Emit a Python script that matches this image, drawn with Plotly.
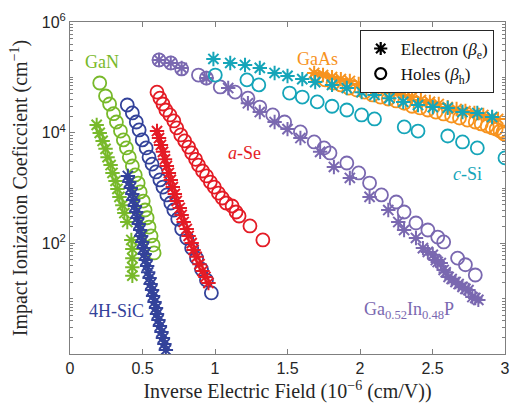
import plotly.graph_objects as go

# ---------------- data (x: inverse field, 1e-6 cm/V ; y: cm^-1) ----------------
gan_h_x = [0.205, 0.245, 0.273, 0.300, 0.320, 0.348, 0.368, 0.389, 0.409, 0.430, 0.450, 0.470, 0.484, 0.505, 0.518, 0.532, 0.545, 0.559, 0.573, 0.580]
gan_h_y = [7.9e4, 4.6e4, 3.3e4, 2.2e4, 1.56e4, 1.07e4, 7.4e3, 5.3e3, 3.6e3, 2.5e3, 1.72e3, 1.23e3, 850, 580, 400, 290, 197, 136, 93, 67]
gan_e_x = [0.184, 0.205, 0.225, 0.245, 0.259, 0.280, 0.293, 0.314, 0.327, 0.341, 0.361, 0.375, 0.395, 0.423, 0.430, 0.430, 0.430, 0.430]
gan_e_y = [1.38e4, 9.9e3, 7.1e3, 5.1e3, 3.6e3, 2.6e3, 1.87e3, 1.34e3, 960, 690, 490, 353, 243, 115, 79, 54, 37, 26]

sic_h_x = [0.395, 0.430, 0.457, 0.477, 0.498, 0.525, 0.545, 0.566, 0.593, 0.620, 0.641, 0.668, 0.695, 0.716, 0.743, 0.770, 0.805, 0.839, 0.873, 0.907, 0.941, 0.975]
sic_h_y = [3.16e4, 2.27e4, 1.56e4, 1.12e4, 7.4e3, 5.3e3, 3.6e3, 2.7e3, 1.95e3, 1.40e3, 1.04e3, 750, 536, 400, 275, 182, 125, 82, 54, 34, 21.7, 12.7]
sic_e_x = [0.399, 0.409, 0.419, 0.430, 0.436, 0.447, 0.457, 0.464, 0.474, 0.484, 0.491, 0.498, 0.508, 0.515, 0.522,
           0.532, 0.539, 0.549, 0.556, 0.566, 0.573, 0.583, 0.593, 0.600, 0.610, 0.620, 0.631, 0.641, 0.651, 0.661]
sic_e_y = [1.65e3, 1.28e3, 1.0e3, 780, 607, 473, 368, 287, 224, 174, 136, 106, 82, 64, 50,
           39, 30, 23.6, 18.4, 14.3, 11.2, 8.7, 6.8, 5.3, 4.1, 3.2, 2.5, 1.95, 1.52, 1.18]

ase_h_x = [0.600, 0.620, 0.641, 0.661, 0.689, 0.716, 0.736, 0.764, 0.791, 0.818, 0.839, 0.866, 0.886, 0.914, 0.941, 0.968, 0.995, 1.023, 1.050, 1.077, 1.118, 1.145, 1.166, 1.241, 1.330]
ase_h_y = [5.4e4, 4.2e4, 3.3e4, 2.57e4, 2.09e4, 1.63e4, 1.22e4, 9.1e3, 7.1e3, 5.5e3, 4.3e3, 3.3e3, 2.6e3, 2.03e3, 1.65e3, 1.28e3, 1.04e3, 810, 660, 536, 473, 368, 312, 206, 115]
ase_e_x = [0.600, 0.614, 0.627, 0.641, 0.655, 0.668, 0.682, 0.695, 0.709, 0.723, 0.736, 0.757, 0.770, 0.784, 0.805, 0.818, 0.839, 0.852, 0.873, 0.893, 0.914, 0.934, 0.955]
ase_e_y = [1.07e4, 8.0e3, 6.0e3, 4.5e3, 3.3e3, 2.5e3, 1.87e3, 1.40e3, 1.04e3, 780, 582, 435, 325, 243, 182, 136, 101, 76, 57, 42, 31.6, 24.7, 19.2]

gip_h_x = [0.614, 0.695, 0.770, 0.886, 0.941, 1.036, 1.139, 1.227, 1.309, 1.398, 1.480, 1.589, 1.684, 1.752, 1.793, 1.909, 1.991, 2.066, 2.148, 2.250, 2.304, 2.386, 2.468, 2.536, 2.577, 2.673, 2.727, 2.795]
gip_h_y = [2.06e5, 1.82e5, 1.42e5, 1.10e5, 9.7e4, 6.7e4, 5.4e4, 4.2e4, 2.9e4, 2.09e4, 1.56e4, 1.03e4, 6.8e3, 5.3e3, 4.3e3, 2.83e3, 1.87e3, 1.23e3, 750, 559, 368, 233, 174, 130, 106, 54, 41, 26.8]
gip_e_x = [0.614, 0.695, 0.770, 0.941, 1.091, 1.227, 1.309, 1.411, 1.500, 1.589, 1.725, 1.820, 1.930, 2.066, 2.195, 2.264, 2.304, 2.386, 2.434,
           2.468, 2.502, 2.523, 2.536, 2.557, 2.577, 2.591, 2.611, 2.632, 2.659, 2.680, 2.707, 2.727, 2.748, 2.775, 2.795, 2.816]
gip_e_y = [2.06e5, 1.82e5, 1.48e5, 9.7e4, 6.4e4, 3.4e4, 2.36e4, 1.56e4, 1.16e4, 8.0e3, 4.5e3, 2.4e3, 1.52e3, 690, 400, 243, 174, 125, 82,
           70, 62, 50, 46, 44, 33, 30, 24.7, 22.7, 20, 18.4, 16.3, 15.0, 14.3, 10.7, 10.3, 9.5]

gaas_h_x = [1.705, 1.759, 1.814, 1.868, 1.923, 1.977, 2.032, 2.086, 2.141, 2.195, 2.250, 2.305, 2.359, 2.414, 2.468, 2.523, 2.577, 2.632, 2.686, 2.741, 2.795, 2.836, 2.877, 2.911, 2.939, 2.966, 2.986, 2.993]
gaas_h_y = [1.01e5, 9.0e4, 7.9e4, 7.3e4, 6.4e4, 5.9e4, 5.4e4, 4.8e4, 4.4e4, 4.06e4, 3.74e4, 3.4e4, 3.0e4, 2.8e4, 2.57e4, 2.36e4, 2.18e4, 2.0e4, 1.84e4, 1.69e4, 1.56e4, 1.44e4, 1.32e4, 1.22e4, 1.16e4, 1.07e4, 1.03e4, 9.5e3]
gaas_e_x = [1.684, 1.745, 1.807, 1.868, 1.930, 1.991, 2.052, 2.114, 2.175, 2.236, 2.298, 2.359, 2.420, 2.482, 2.543, 2.605, 2.666, 2.727, 2.789, 2.850, 2.911, 2.952]
gaas_e_y = [1.20e5, 1.10e5, 1.01e5, 9.3e4, 8.6e4, 7.6e4, 7.0e4, 6.4e4, 5.9e4, 5.2e4, 4.8e4, 4.4e4, 3.9e4, 3.6e4, 3.3e4, 2.9e4, 2.68e4, 2.46e4, 2.27e4, 2.09e4, 1.84e4, 1.77e4]

csi_h_x = [1.002, 1.220, 1.302, 1.514, 1.602, 1.705, 1.807, 1.909, 2.011, 2.100, 2.305, 2.400, 2.605, 2.707, 2.809, 3.000]
csi_h_y = [1.10e5, 9.0e4, 7.3e4, 5.2e4, 4.4e4, 3.6e4, 3.0e4, 2.57e4, 2.09e4, 1.77e4, 1.27e4, 1.07e4, 8.7e3, 6.8e3, 5.3e3, 3.5e3]
csi_e_x = [0.989, 1.105, 1.207, 1.309, 1.411, 1.500, 1.602, 1.691, 1.807, 1.909, 2.011, 2.100, 2.202, 2.298, 2.400, 2.502, 2.605, 2.707, 2.809, 2.911]
csi_e_y = [2.15e5, 1.82e5, 1.67e5, 1.48e5, 1.20e5, 1.06e5, 9.3e4, 8.2e4, 7.3e4, 6.4e4, 5.4e4, 4.8e4, 4.2e4, 3.6e4, 3.16e4, 2.9e4, 2.8e4, 2.36e4, 2.27e4, 1.92e4]

x_ticks = [0, 0.5, 1, 1.5, 2, 2.5, 3]
x_ticktext = ["0", "0.5", "1", "1.5", "2", "2.5", "3"]
y_ticks = [1e2, 1e4, 1e6]
y_ticktext = ["10<sup>2</sup>", "10<sup>4</sup>", "10<sup>6</sup>"]

# material labels: (x, log10(y), text)
label_x = [0.22, 0.32, 1.20, 1.71, 2.74, 2.34]
label_logy = [5.27, 0.78, 3.63, 5.33, 3.26, 0.78]
label_text = ["GaN", "4H-SiC", "<i>a</i>-Se", "GaAs", "<i>c</i>-Si", "Ga<sub>0.52</sub>In<sub>0.48</sub>P"]

# ---------------- styling ----------------
GREEN = "#78B92A"
BLUE = "#33429A"
RED = "#E41B25"
PURPLE = "#7A68B0"
CYAN = "#15A5B9"
ORANGE = "#F7931E"
label_color = [GREEN, BLUE, RED, ORANGE, CYAN, PURPLE]
SERIF = "Liberation Serif, Times New Roman, serif"
SANS = "Liberation Sans, Arial, sans-serif"

fig = go.Figure()


def holes(x, y, c):
    fig.add_trace(go.Scatter(x=x, y=y, mode="markers", showlegend=False,
                             marker=dict(symbol="circle-open", size=13, color=c,
                                         line=dict(width=1.8, color=c))))


def elec(x, y, c):
    fig.add_trace(go.Scatter(x=x, y=y, mode="markers", showlegend=False,
                             marker=dict(symbol="asterisk-open", size=12, color=c,
                                         line=dict(width=2, color=c))))


holes(gan_h_x, gan_h_y, GREEN)
elec(gan_e_x, gan_e_y, GREEN)
holes(sic_h_x, sic_h_y, BLUE)
elec(sic_e_x, sic_e_y, BLUE)
holes(ase_h_x, ase_h_y, RED)
elec(ase_e_x, ase_e_y, RED)
holes(gip_h_x, gip_h_y, PURPLE)
elec(gip_e_x, gip_e_y, PURPLE)
holes(gaas_h_x, gaas_h_y, ORANGE)
elec(gaas_e_x, gaas_e_y, ORANGE)
holes(csi_h_x, csi_h_y, CYAN)
elec(csi_e_x, csi_e_y, CYAN)

# legend entries
fig.add_trace(go.Scatter(x=[None], y=[None], mode="markers", name="Electron (<i>β</i><sub>e</sub>)",
                         marker=dict(symbol="asterisk-open", size=11, color="black",
                                     line=dict(width=2.2, color="black"))))
fig.add_trace(go.Scatter(x=[None], y=[None], mode="markers", name="Holes (<i>β</i><sub>h</sub>)",
                         marker=dict(symbol="circle-open", size=11, color="black",
                                     line=dict(width=2.2, color="black"))))

for x, ly, t, c in zip(label_x, label_logy, label_text, label_color):
    fig.add_annotation(x=x, y=ly, text=t, showarrow=False, yref="y", xref="x",
                       font=dict(family=SERIF, size=18, color=c))

minor_vals = [m * 10 ** k for k in range(0, 6) for m in range(1, 10) if not (m == 1 and k % 2 == 0)]

AX = "#7f7f7f"
fig.update_xaxes(range=[0, 3], tickvals=x_ticks, ticktext=x_ticktext, ticks="inside", ticklen=5,
                 tickcolor=AX, showline=True, linecolor=AX, linewidth=1, mirror="allticks",
                 showgrid=False, zeroline=False, ticklabeloverflow="allow",
                 tickfont=dict(family=SANS, size=16, color="#262626"),
                 title=dict(text="Inverse Electric Field (10<sup>−6</sup> (cm/V))",
                            font=dict(family=SERIF, size=20, color="#262626"), standoff=9))
fig.update_yaxes(type="log", range=[0, 6], tickvals=y_ticks, ticktext=y_ticktext, ticks="inside",
                 ticklen=5, tickcolor=AX, showline=True, linecolor=AX, linewidth=1, mirror="allticks",
                 showgrid=False, zeroline=False,
                 minor=dict(tickvals=minor_vals, ticks="inside", ticklen=3, tickcolor=AX, showgrid=False),
                 tickfont=dict(family=SANS, size=16, color="#262626"),
                 title=dict(text="Impact Ionization Coeficcient (cm<sup>−1</sup>)",
                            font=dict(family=SERIF, size=20, color="#262626"), standoff=8))

fig.update_layout(
    width=513, height=403,
    margin=dict(l=70, r=3, t=22, b=49),
    paper_bgcolor="white", plot_bgcolor="white",
    showlegend=True,
    legend=dict(x=0.666, y=0.976, xanchor="left", yanchor="top",
                bgcolor="white", bordercolor="#262626", borderwidth=1,
                font=dict(family=SERIF, size=17, color="#111111"),
                tracegroupgap=0, itemwidth=30),
)

fig.write_html("out.html")
